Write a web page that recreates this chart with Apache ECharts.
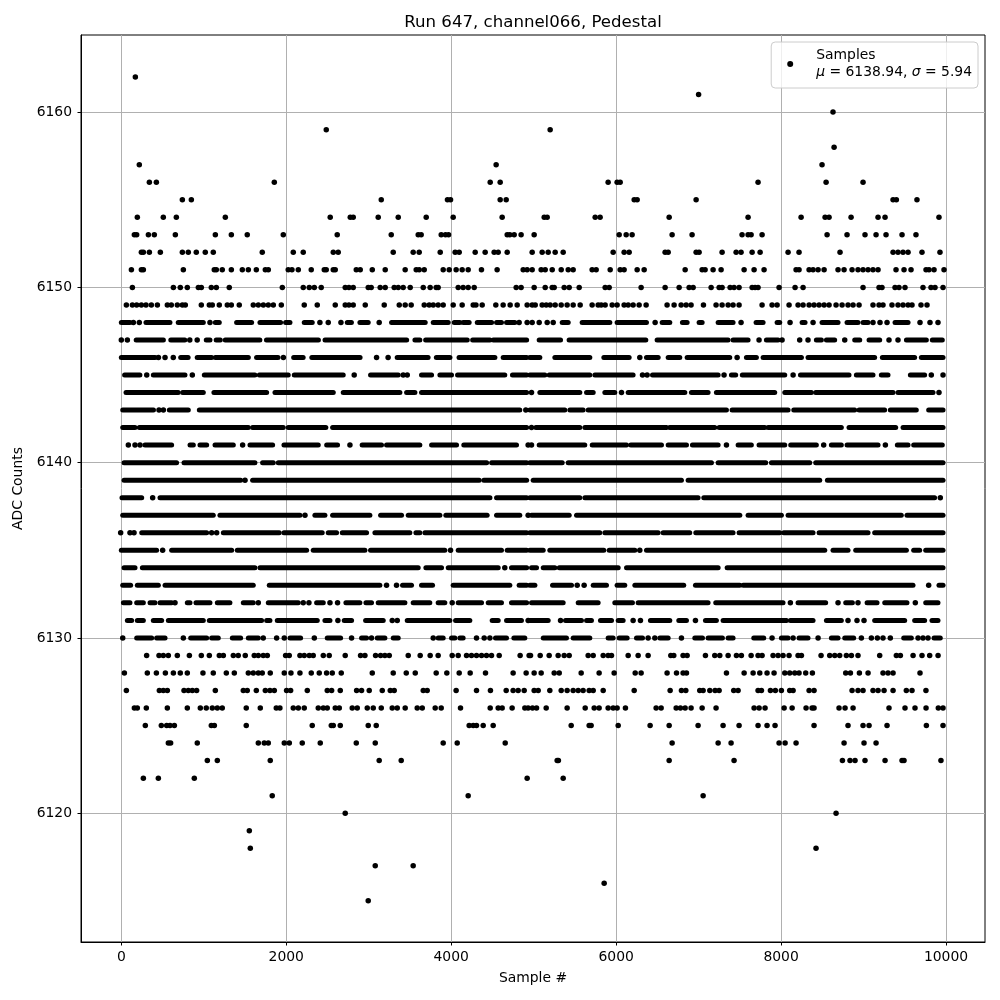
<!DOCTYPE html>
<html><head><meta charset="utf-8">
<script src="https://cdn.jsdelivr.net/npm/echarts@6/dist/echarts.min.js"></script>
<style>html,body{margin:0;background:#fff}#c{width:1000px;height:1000px}</style></head>
<body><div id="c"></div>
<script>
// Each row is one ADC level. A number is a single visible sample; [a,b] is a run of merged samples.
const s6162=[170];
const s6161=[7000];
const s6160=[8630];
const s6159=[2485,5200];
const s6158=[8643];
const s6157=[218,4545,8497];
const s6156=[340,425,1855,4473,4594,5903,6012,6049,7721,8546,8994];
const s6155=[740,849,3152,3955,3992,4594,4667,6219,6255,6970,9358,9398,9648];
const s6154=[194,509,667,1261,2533,2776,2812,3115,3358,3697,4024,4618,5128,5164,5746,5806,6643,7600,8243,8534,8582,8849,9176,9261,9915];
const s6153=[158,186,328,400,655,1140,1334,1527,1964,2618,3273,3600,3636,3879,3931,3968,4679,4711,4764,4848,5006,6037,6122,6194,6679,6921,7527,7600,7637,7770,8558,8800,9018,9152,9273,9467,9636];
const s6152=[243,267,340,473,740,812,909,1018,1115,1709,2085,2206,2570,2630,3297,3539,3612,3867,4048,4097,4291,4412,4521,4570,4679,4982,5103,5176,5261,5358,5964,6097,6158,6594,6631,6970,7006,7285,7455,7515,7649,7746,8085,8218,8715,9358,9418,9479,9540,9709,9927];
const s6151=[122,243,267,752,1127,1152,1224,1334,1467,1540,1637,1746,1782,2024,2069,2146,2303,2461,2485,2570,2594,2849,2897,3043,3200,3442,3576,3612,3673,3903,3976,4060,4133,4206,4367,4557,4873,4921,4982,5091,5140,5225,5334,5419,5479,5709,5758,5928,6049,6097,6255,6340,6837,7043,7079,7176,7273,7552,7673,7794,8182,8218,8340,8388,8449,8522,8691,8764,8861,8933,8994,9055,9115,9176,9394,9491,9576,9758,9794,9855,9976];
const s6150=[134,631,715,800,934,970,1091,1152,1309,1952,2206,2279,2340,2424,2715,2760,2812,2994,3030,3139,3200,3309,3358,3418,3503,3661,3745,3818,3842,4085,4145,4206,4279,4788,4848,5006,5140,5225,5249,5370,5431,5552,5867,5916,6303,6594,6764,6885,6934,7152,7249,7285,7382,7430,7491,7649,7685,7721,7976,8170,8267,8994,9188,9224,9382,9430,9503,9721,9818,9867,9964];
const s6149=[61,134,186,243,299,364,437,558,606,679,740,776,970,1067,1103,1188,1285,1334,1430,1600,1661,1722,1782,1843,1940,2218,2376,2594,2715,2760,2812,2958,3188,3370,3442,3515,3673,3733,3782,3842,3903,4024,4133,4267,4300,4376,4541,4630,4715,4800,4921,4982,5019,5103,5152,5200,5261,5334,5406,5479,5564,5709,5782,5819,5867,5952,6012,6097,6146,6206,6279,6364,6618,6703,6788,6849,6909,7059,7212,7285,7358,7418,7491,7770,7891,7952,8097,8206,8267,8340,8400,8461,8522,8582,8667,8740,8812,8873,8946,9115,9188,9236,9345,9418,9479,9540,9588,9697,9770];
const s6148=[[0,105],146,218,[299,590],[690,994],1075,[1140,1188],[1398,1580],[1681,1931],[1992,2045],[2218,2315],2408,2509,2663,[2740,2790],[2893,2994],3127,[3277,3685],[3782,3964],[4037,4105],[4145,4218],[4316,4490],[4550,4610],[4671,4772],4824,4921,4982,5067,5164,5237,[5346,5419],[5588,5924],[6012,6368],6473,[6558,6651],[6804,6861],[7006,7043],[7237,7418],7515,[7697,7782],[7952,7984],8109,[8255,8291],8388,[8497,8691],[8800,8933],[8994,9055],9115,9200,9285,[9382,9540],9685,9806,9903];
const s6147=[0,73,[180,510],[600,770],830,920,[1030,1075],[1150,1200],[1260,1680],[1760,2390],[2470,3460],[3560,3620],[3690,4195],[4260,4470],[4510,4915],[5067,5326],[5430,6360],[6497,7358],[7418,7600],7733,[7822,7964],8012,8226,8327,[8428,8489],[8550,8650],8772,[8893,8954],[9067,9196],9309,9418,[9520,9762],[9834,9955]];
const s6146=[[0,410],450,530,630,[720,810],[920,1095],[1140,1540],[1640,1900],1965,[2090,2205],[2310,2895],3095,3235,[3345,3720],[3820,3985],[4095,4530],[4630,4915],[4954,5075],[5257,5681],[5851,6158],6287,[6368,6510],[6631,6772],[6861,7378],7467,[7580,7701],[7782,8247],[8327,9135],[9228,9620],[9701,9964]];
const s6145=[[40,225],308,[388,772],861,[1006,1620],[1673,2024],[2097,2691],2824,[3022,3358],3418,3467,[3640,3762],[3863,4004],[4077,4650],[4743,4915],[4954,5136],[5188,5681],[5742,6206],6320,6376,[6441,7237],7309,[7398,7450],[7530,8045],8146,[8235,8824],[8913,9115],[9216,9297],[9568,9741],9822,9964];
const s6144=[[57,690],[744,994],[1123,1762],[1863,2570],[2691,3378],[3459,3560],[3640,4915],4974,[5075,5560],[5641,5722],[5863,5984],6065,[6146,6833],[6913,7115],[7216,7923],[8045,8368],[8420,9358],[9418,9843],9915];
const s6143=[[17,390],457,510,[582,812],[946,4832],4905,[4954,5378],[5439,5600],[5661,7338],[7406,8085],[8154,8893],[8946,9256],[9325,9640],[9790,9964]];
const s6142=[[17,166],[218,1540],[1592,1964],[2024,2480],[2562,4915],4974,[5027,5560],[5621,6610],[6650,7196],[7249,7802],[7843,8731],[8824,9390],[9479,9964]];
const s6141=[85,166,227,[287,610],[833,873],[954,1035],[1136,1358],1471,[1560,1835],[1972,2388],[2490,2622],2772,[2920,3155],[3216,3620],[3762,4065],[4153,4792],4933,4974,[5067,5620],[5710,6126],[6178,6550],[6631,6853],[6925,7237],7338,[7479,7640],[7733,8045],[8117,8428],8517,[8610,8731],[8800,9176],9265,[9410,9540],[9608,9955]];
const s6140=[[33,670],[760,1620],[1713,1843],[1903,4430],[4490,4915],[4954,5346],[5419,7156],[7237,7814],[7883,8348],[8420,9964]];
const s6139=[[33,1447],1500,[1592,4340],[4396,4915],[4994,6792],[6873,8469],[8562,9964]];
const s6138=[[8,247],380,[469,4470],[4550,4915],[4954,5560],[5621,6994],[7063,9862],9931];
const s6137=[[17,1115],[1196,2166],2227,[2347,2469],[2562,3014],[3144,3398],[3479,3863],[3935,4436],[4550,4832],4933,[4974,5431],[5520,7500],[7600,8004],[8085,9458],[9527,9964]];
const s6136=[-8,105,154,[247,1035],1095,1156,[1237,1915],[1972,2436],[2509,2610],[2679,2974],[3075,3499],[3572,3620],[3681,4915],[4954,5802],[5863,6510],[6570,6893],[6966,7418],[7491,7984],[8032,8388],[8461,9055],[9135,9964]];
const s6135=[[0,428],501,[610,1338],[1406,2247],[2327,2954],[3022,3923],3992,[4085,4610],[4679,4915],[4954,5116],[5196,5851],[5916,6227],6287,[6368,8530],[8630,8812],[8905,9520],[9608,9681],[9754,9964]];
const s6134=[[33,166],[255,1620],[1681,3600],[3693,3883],[3964,4570],4650,[4731,4915],[4974,5035],[5116,5257],[5310,6025],[6126,7237],[7346,9964]];
const s6133=[[17,113],[194,449],[530,1600],[1794,3135],3216,3337,[3410,3519],[3640,3774],[4024,4711],[4824,4915],[4954,5015],[5229,5459],5528,5612,[5722,5883],[6012,6105],[6227,6820],[6962,7499],[7540,9600],9790,[9915,9964]];
const s6132=[[25,105],[186,267],[348,408],[469,610],651,[800,833],[905,1075],[1164,1317],[1479,1600],1661,[1782,2146],2206,2275,[2368,2449],2530,2622,[2723,2893],[2966,3034],[3115,3439],[3539,3741],[3842,3923],4012,[4085,4368],[4449,4610],[4731,4915],[4974,5358],[5540,5782],[5984,6198],[6267,7115],[7208,8024],8113,[8206,8541],8691,[8784,8865],8933,[9043,9164],[9257,9527],9628,[9754,9903]];
const s6131=[[73,125],[194,267],[388,489],[570,994],[1067,1701],[1762,1802],[1891,2376],[2469,2530],2626,[2703,2792],[2962,3176],3285,3346,[3467,3984],[4053,4226],[4497,4570],[4671,4852],4933,[4954,5176],5326,[5386,5580],[5641,5701],[5810,5944],[6025,6085],6206,6295,[6416,6651],[6760,6853],6962,[7083,7216],[7297,8065],[8113,8388],[8550,8731],8812,8921,9006,[9135,9499],[9620,9741],[9830,9903]];
const s6130=[17,[186,368],[428,530],752,[841,1035],[1095,1176],[1346,1447],[1540,1661],1721,1883,1976,[2045,2174],2340,[2497,2659],2792,[2913,2974],3034,[3103,3196],[3297,3358],3782,[3842,3903],[4004,4045],[4105,4145],4307,4400,4469,[4537,4671],[4760,4893],[5116,5398],[5479,5681],[5903,5964],[6037,6134],[6247,6320],6388,6469,[6530,6631],6792,[6954,7047],[7115,7289],[7358,7418],[7669,7790],7891,[8004,8085],8146,[8218,8327],8449,[8610,8691],[8772,8881],8974,9095,9168,9236,9325,[9487,9580],9661,9721,9782,[9855,9931]];
const s6129=[307,457,509,570,679,825,970,1067,1188,1237,1358,1418,1503,1612,1661,1721,1770,1992,2036,2166,2218,2279,2327,2449,2521,2715,2901,2954,3083,3144,3196,3249,3479,3624,3745,3842,4012,4085,4186,4246,4307,4368,4428,4489,4582,4836,4945,4962,5079,5188,5297,5370,5431,5661,5722,5843,5903,5944,6146,6267,6388,6663,6699,6812,6861,7083,7196,7257,7358,7459,7519,7637,7721,7770,7903,7964,8024,8097,8206,8247,8485,8590,8651,8711,8792,8853,8933,9196,9398,9447,9601,9709,9802,9904];
const s6128=[37,315,425,534,631,715,800,990,1115,1273,1370,1540,1600,1661,1709,1806,1976,2057,2166,2303,2400,2489,2558,2667,3043,3297,3455,3564,3818,3947,4097,4230,4416,4751,4909,5006,5091,5249,5310,5576,5794,5976,6231,6303,6618,6732,6812,6853,7338,7552,7661,7742,7830,7915,8045,8105,8166,8218,8299,8380,8784,8841,8950,9055,9236,9297,9358,9685];
const s6127=[61,461,509,558,760,812,861,913,1140,1479,1527,1637,1746,1802,1855,2004,2053,2255,2497,2550,2655,2853,2913,3006,3164,3261,3309,3661,3709,4060,4307,4476,4667,4751,4812,4885,5006,5055,5196,5334,5406,5479,5540,5600,5673,5722,5843,6219,6655,6792,6845,7014,7055,7136,7200,7249,7426,7479,7721,7762,7871,7931,8004,8105,8146,8340,8400,8861,8933,8994,9115,9176,9249,9358,9519,9588,9757];
const s6126=[158,194,303,558,800,958,1030,1103,1164,1224,1515,1685,1879,1923,2085,2146,2218,2388,2449,2497,2594,2643,2800,2861,2982,3055,3152,3285,3346,3442,3588,3649,3806,3879,4113,4473,4570,4618,4739,4893,4933,4986,5035,5152,5406,5625,5734,5794,5903,5964,6012,6113,6485,6546,6728,6780,6837,6909,7043,7212,7673,7734,7806,8037,8134,8303,8376,8400,8703,8776,8873,9309,9503,9624,9758,9907,9964];
const s6125=[291,485,550,590,643,1091,1128,1515,2315,2546,2570,2655,2994,3091,4218,4267,4307,4388,4509,5455,5673,5697,6025,6412,6643,6994,7297,7491,7721,7830,7927,8400,8812,8994,9067,9285,9762,9964];
const s6124=[570,598,921,1661,1733,1782,1976,2037,2194,2412,2849,3079,3903,4073,4655,6679,7237,7394,7976,8049,8182,8764,9006,9152];
const s6123=[1043,1164,1806,3127,3394,5285,5300,6643,7430,8744,8836,8897,9018,9261,9467,9491,9939];
const s6122=[267,449,885,4921,5358];
const s6121=[1830,4206,7055];
const s6120=[2715,8667];
const s6119=[1552];
const s6118=[1564,8424];
const s6117=[3079,3539];
const s6116=[5855];
const s6115=[2994];

const rows=[[6162,s6162],[6161,s6161],[6160,s6160],[6159,s6159],[6158,s6158],[6157,s6157],[6156,s6156],[6155,s6155],[6154,s6154],[6153,s6153],[6152,s6152],[6151,s6151],[6150,s6150],[6149,s6149],[6148,s6148],[6147,s6147],[6146,s6146],[6145,s6145],[6144,s6144],[6143,s6143],[6142,s6142],[6141,s6141],[6140,s6140],[6139,s6139],[6138,s6138],[6137,s6137],[6136,s6136],[6135,s6135],[6134,s6134],[6133,s6133],[6132,s6132],[6131,s6131],[6130,s6130],[6129,s6129],[6128,s6128],[6127,s6127],[6126,s6126],[6125,s6125],[6124,s6124],[6123,s6123],[6122,s6122],[6121,s6121],[6120,s6120],[6119,s6119],[6118,s6118],[6117,s6117],[6116,s6116],[6115,s6115]];
const xTicks=[0,2000,4000,6000,8000,10000];
const yTicks=[6120,6130,6140,6150,6160];

const points=[],runs=[];
rows.forEach(([level,items])=>items.forEach(it=>{
  if(Array.isArray(it)) runs.push([it[0],it[1],level]); else points.push([it,level]);
}));

const font='"DejaVu Sans"';
const axisCommon={
  axisLine:{show:true,onZero:false,lineStyle:{color:'#000',width:1}},
  axisTick:{show:true,length:3.5,lineStyle:{color:'#000',width:1}},
  splitLine:{show:true,lineStyle:{color:'#b0b0b0',width:1}},
  nameLocation:'middle',
  nameTextStyle:{color:'#000',fontFamily:font,fontSize:13.9}
};
const chart=echarts.init(document.getElementById('c'),null,{renderer:'canvas'});
chart.setOption({
  animation:false,
  backgroundColor:'#fff',
  title:{text:'Run 647, channel066, Pedestal',left:528,top:9,textAlign:'center',
    textStyle:{color:'#000',fontFamily:font,fontSize:16.6,fontWeight:'normal'}},
  grid:{left:81,right:15,top:35,bottom:58,show:true,borderColor:'#000',borderWidth:1,backgroundColor:'transparent'},
  xAxis:{type:'value',min:-489,max:10473,name:'Sample #',nameGap:29,...axisCommon,
    axisTick:{...axisCommon.axisTick,customValues:xTicks},
    axisLabel:{customValues:xTicks,color:'#000',fontFamily:font,fontSize:13.9,margin:8,formatter:v=>String(v)}},
  yAxis:{type:'value',min:6112.65,max:6164.4,name:'ADC Counts',nameGap:51,...axisCommon,
    axisTick:{...axisCommon.axisTick,customValues:yTicks},
    axisLabel:{customValues:yTicks,color:'#000',fontFamily:font,fontSize:13.9,margin:9,formatter:v=>String(v)}},
  legend:{data:[{name:'Samples',icon:'circle'}],right:22,top:42,orient:'vertical',
    itemWidth:6,itemHeight:6,padding:[5,6,7,16],
    backgroundColor:'rgba(255,255,255,0.8)',borderColor:'#ccc',borderWidth:1,borderRadius:4,
    selectedMode:false,
    formatter:()=>'Samples\n{i|μ} = 6138.94, {i|σ} = 5.94',
    textStyle:{color:'#000',fontFamily:font,fontSize:13.9,lineHeight:17,padding:[0,0,0,18],
      rich:{i:{fontStyle:'italic',fontFamily:font,fontSize:13.9,color:'#000'}}}},
  series:[
    {name:'Samples',type:'scatter',data:points,symbol:'circle',symbolSize:5.5,
      itemStyle:{color:'#000',opacity:1},silent:true,z:3,large:false,progressive:0},
    {name:'Merged samples',type:'custom',data:runs,silent:true,z:3,
      encode:{x:[0,1],y:2},
      renderItem:(params,api)=>{
        const a=api.coord([api.value(0),api.value(2)]);
        const b=api.coord([api.value(1),api.value(2)]);
        return {type:'line',shape:{x1:a[0],y1:a[1],x2:b[0],y2:b[1]},
          style:{stroke:'#000',lineWidth:5,lineCap:'round',fill:null}};
      }}
  ]
});
</script></body></html>
